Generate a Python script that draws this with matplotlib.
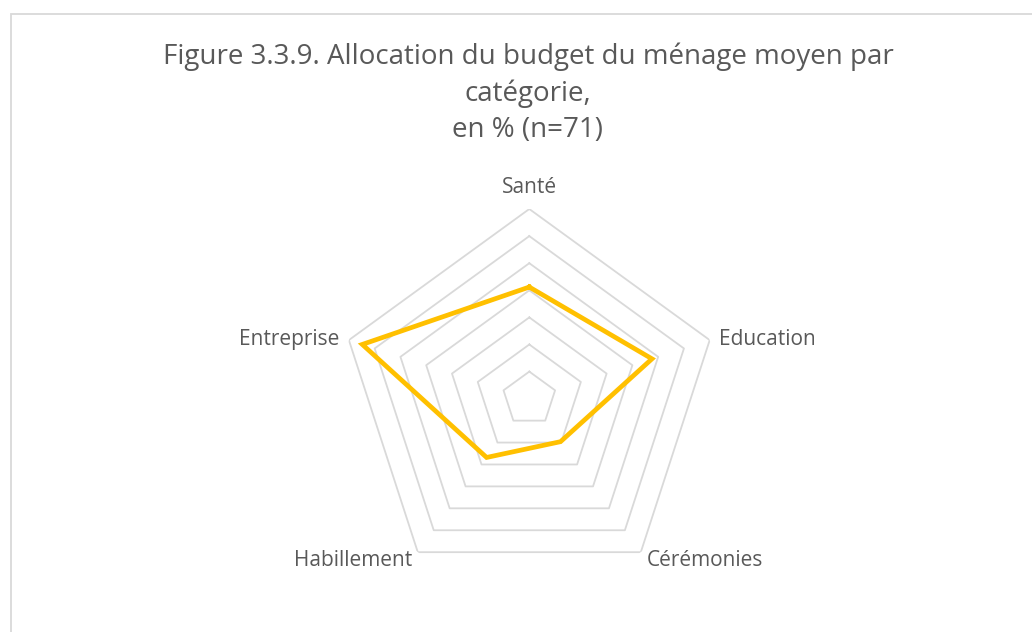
import numpy as np
import matplotlib
matplotlib.use("Agg")
import matplotlib.pyplot as plt
from matplotlib.patches import Rectangle

categories = ["Santé", "Education", "Cérémonies", "Habillement", "Entreprise"]
values = [20.6, 23.8, 9.8, 13.4, 32.4]
ring_levels = [5, 10, 15, 20, 25, 30, 35]
title_lines = ["Figure 3.3.9. Allocation du budget du ménage moyen par",
               "catégorie,",
               "en % (n=71)"]

plt.rcParams['font.family'] = ['Open Sans', 'DejaVu Sans']
TXT = "#595959"
GRID = "#D9D9D9"
LINE = "#FFC000"

W, H = 1032, 632
fig = plt.figure(figsize=(W / 100, H / 100), dpi=100)
fig.patch.set_facecolor("white")

# outer chart border
fig.patches.append(Rectangle((10.5 / W, -0.05), 1.2, 1 - 14 / H + 0.05, transform=fig.transFigure,
                             fill=False, edgecolor="#D9D9D9", linewidth=1.3))

for i, line in enumerate(title_lines):
    base_y = [64.3, 101, 136.7][i]
    fig.text(528 / W, 1 - base_y / H, line, ha="center", va="baseline", color=TXT,
             fontsize=20)

cx, cy, R = 529.3, 398.7, 189.7
ax = fig.add_axes([(cx - R) / W, (H - cy - R) / H, 2 * R / W, 2 * R / H], projection="polar")
ax.set_theta_offset(np.pi / 2)
ax.set_theta_direction(-1)
ax.set_ylim(0, ring_levels[-1])
ax.grid(False)
ax.spines['polar'].set_visible(False)
ax.set_xticks([])
ax.set_yticks([])
ax.patch.set_alpha(0)

n = len(categories)
angles = np.linspace(0, 2 * np.pi, n, endpoint=False)
closed = np.concatenate([angles, angles[:1]])

for lv in ring_levels:
    ax.plot(closed, [lv] * (n + 1), color=GRID, lw=1.3, zorder=1)

vals = list(values) + [values[0]]
ax.plot(closed, vals, color=LINE, lw=3.4, zorder=3, solid_joinstyle="miter")

offsets = [((0, 16), "center"),
           ((9.5, -5), "left"),
           ((6, -14), "left"),
           ((-6, -14), "right"),
           ((-9.5, -5), "right")]
for ang, lab, (off, ha) in zip(angles, categories, offsets):
    ax.annotate(lab, xy=(ang, ring_levels[-1]), xytext=off, textcoords="offset pixels",
                ha=ha, va="baseline", color=TXT, fontsize=15, annotation_clip=False)

fig.savefig("out.png", dpi=100)
